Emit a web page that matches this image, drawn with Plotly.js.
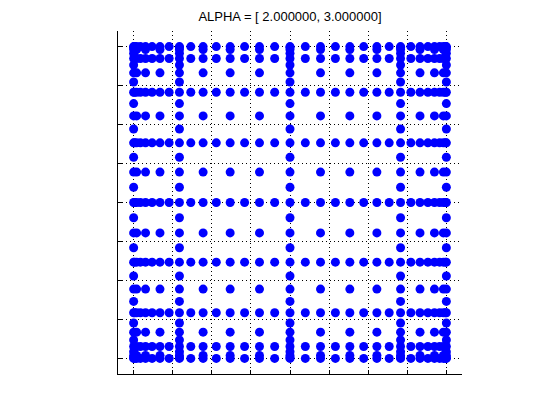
<!DOCTYPE html>
<html>
<head>
<meta charset="utf-8">
<script src="https://cdn.plot.ly/plotly-3.0.1.min.js"></script>
<style>
  html, body { margin: 0; padding: 0; background: #ffffff; }
  #chart { width: 560px; height: 420px; }
</style>
</head>
<body>
<div id="chart"></div>
<script>
// Clenshaw-Curtis nodes added at each level
const nodesL0 = [0];
const nodesL1 = [-1, 1];
const nodesL2 = [-0.7071, 0.7071];
const nodesL3 = [-0.9239, -0.3827, 0.3827, 0.9239];
const nodesL4 = [-0.9808, -0.8315, -0.5556, -0.1951, 0.1951, 0.5556, 0.8315, 0.9808];
const nodesL5 = [-0.9952, -0.9569, -0.8819, -0.7730, -0.6344, -0.4714, -0.2903, -0.0980,
                 0.0980, 0.2903, 0.4714, 0.6344, 0.7730, 0.8819, 0.9569, 0.9952];
// highest y level present for each x level
const maxYLevel = [5, 5, 5, 4, 4, 3];
const tickVals = [-1, -0.75, -0.5, -0.25, 0, 0.25, 0.5, 0.75, 1];
const titleText = 'ALPHA = [ 2.000000, 3.000000]';

const levels = [nodesL0, nodesL1, nodesL2, nodesL3, nodesL4, nodesL5];
const xs = [], ys = [];
levels.forEach(function (xNodes, lx) {
  for (let ly = 0; ly <= maxYLevel[lx]; ly++) {
    xNodes.forEach(function (xv) {
      levels[ly].forEach(function (yv) { xs.push(xv); ys.push(yv); });
    });
  }
});

const trace = {
  x: xs, y: ys, type: 'scatter', mode: 'markers',
  marker: { color: '#0000ff', size: 9, line: { width: 0 } },
  hoverinfo: 'skip'
};

const axisCommon = {
  range: [-1.1, 1.1],
  tickvals: tickVals,
  showticklabels: false,
  ticks: 'inside',
  ticklen: 4,
  tickcolor: '#000000',
  tickwidth: 1,
  showline: true,
  linecolor: '#000000',
  linewidth: 1,
  mirror: false,
  showgrid: true,
  gridcolor: '#000000',
  gridwidth: 1,
  griddash: '1px,3px',
  zeroline: false,
  fixedrange: true
};

const layout = {
  width: 560, height: 420,
  margin: { l: 118, r: 98, t: 31, b: 46, pad: 0 },
  paper_bgcolor: '#ffffff',
  plot_bgcolor: '#ffffff',
  showlegend: false,
  title: {
    text: titleText,
    font: { family: 'Liberation Sans, Arial, sans-serif', size: 13, color: '#000000' },
    x: 0.5, xref: 'paper', xanchor: 'center',
    y: 0.962, yref: 'container', yanchor: 'middle'
  },
  xaxis: Object.assign({}, axisCommon),
  yaxis: Object.assign({}, axisCommon)
};

Plotly.newPlot('chart', [trace], layout, { displayModeBar: false, staticPlot: true });
</script>
</body>
</html>
